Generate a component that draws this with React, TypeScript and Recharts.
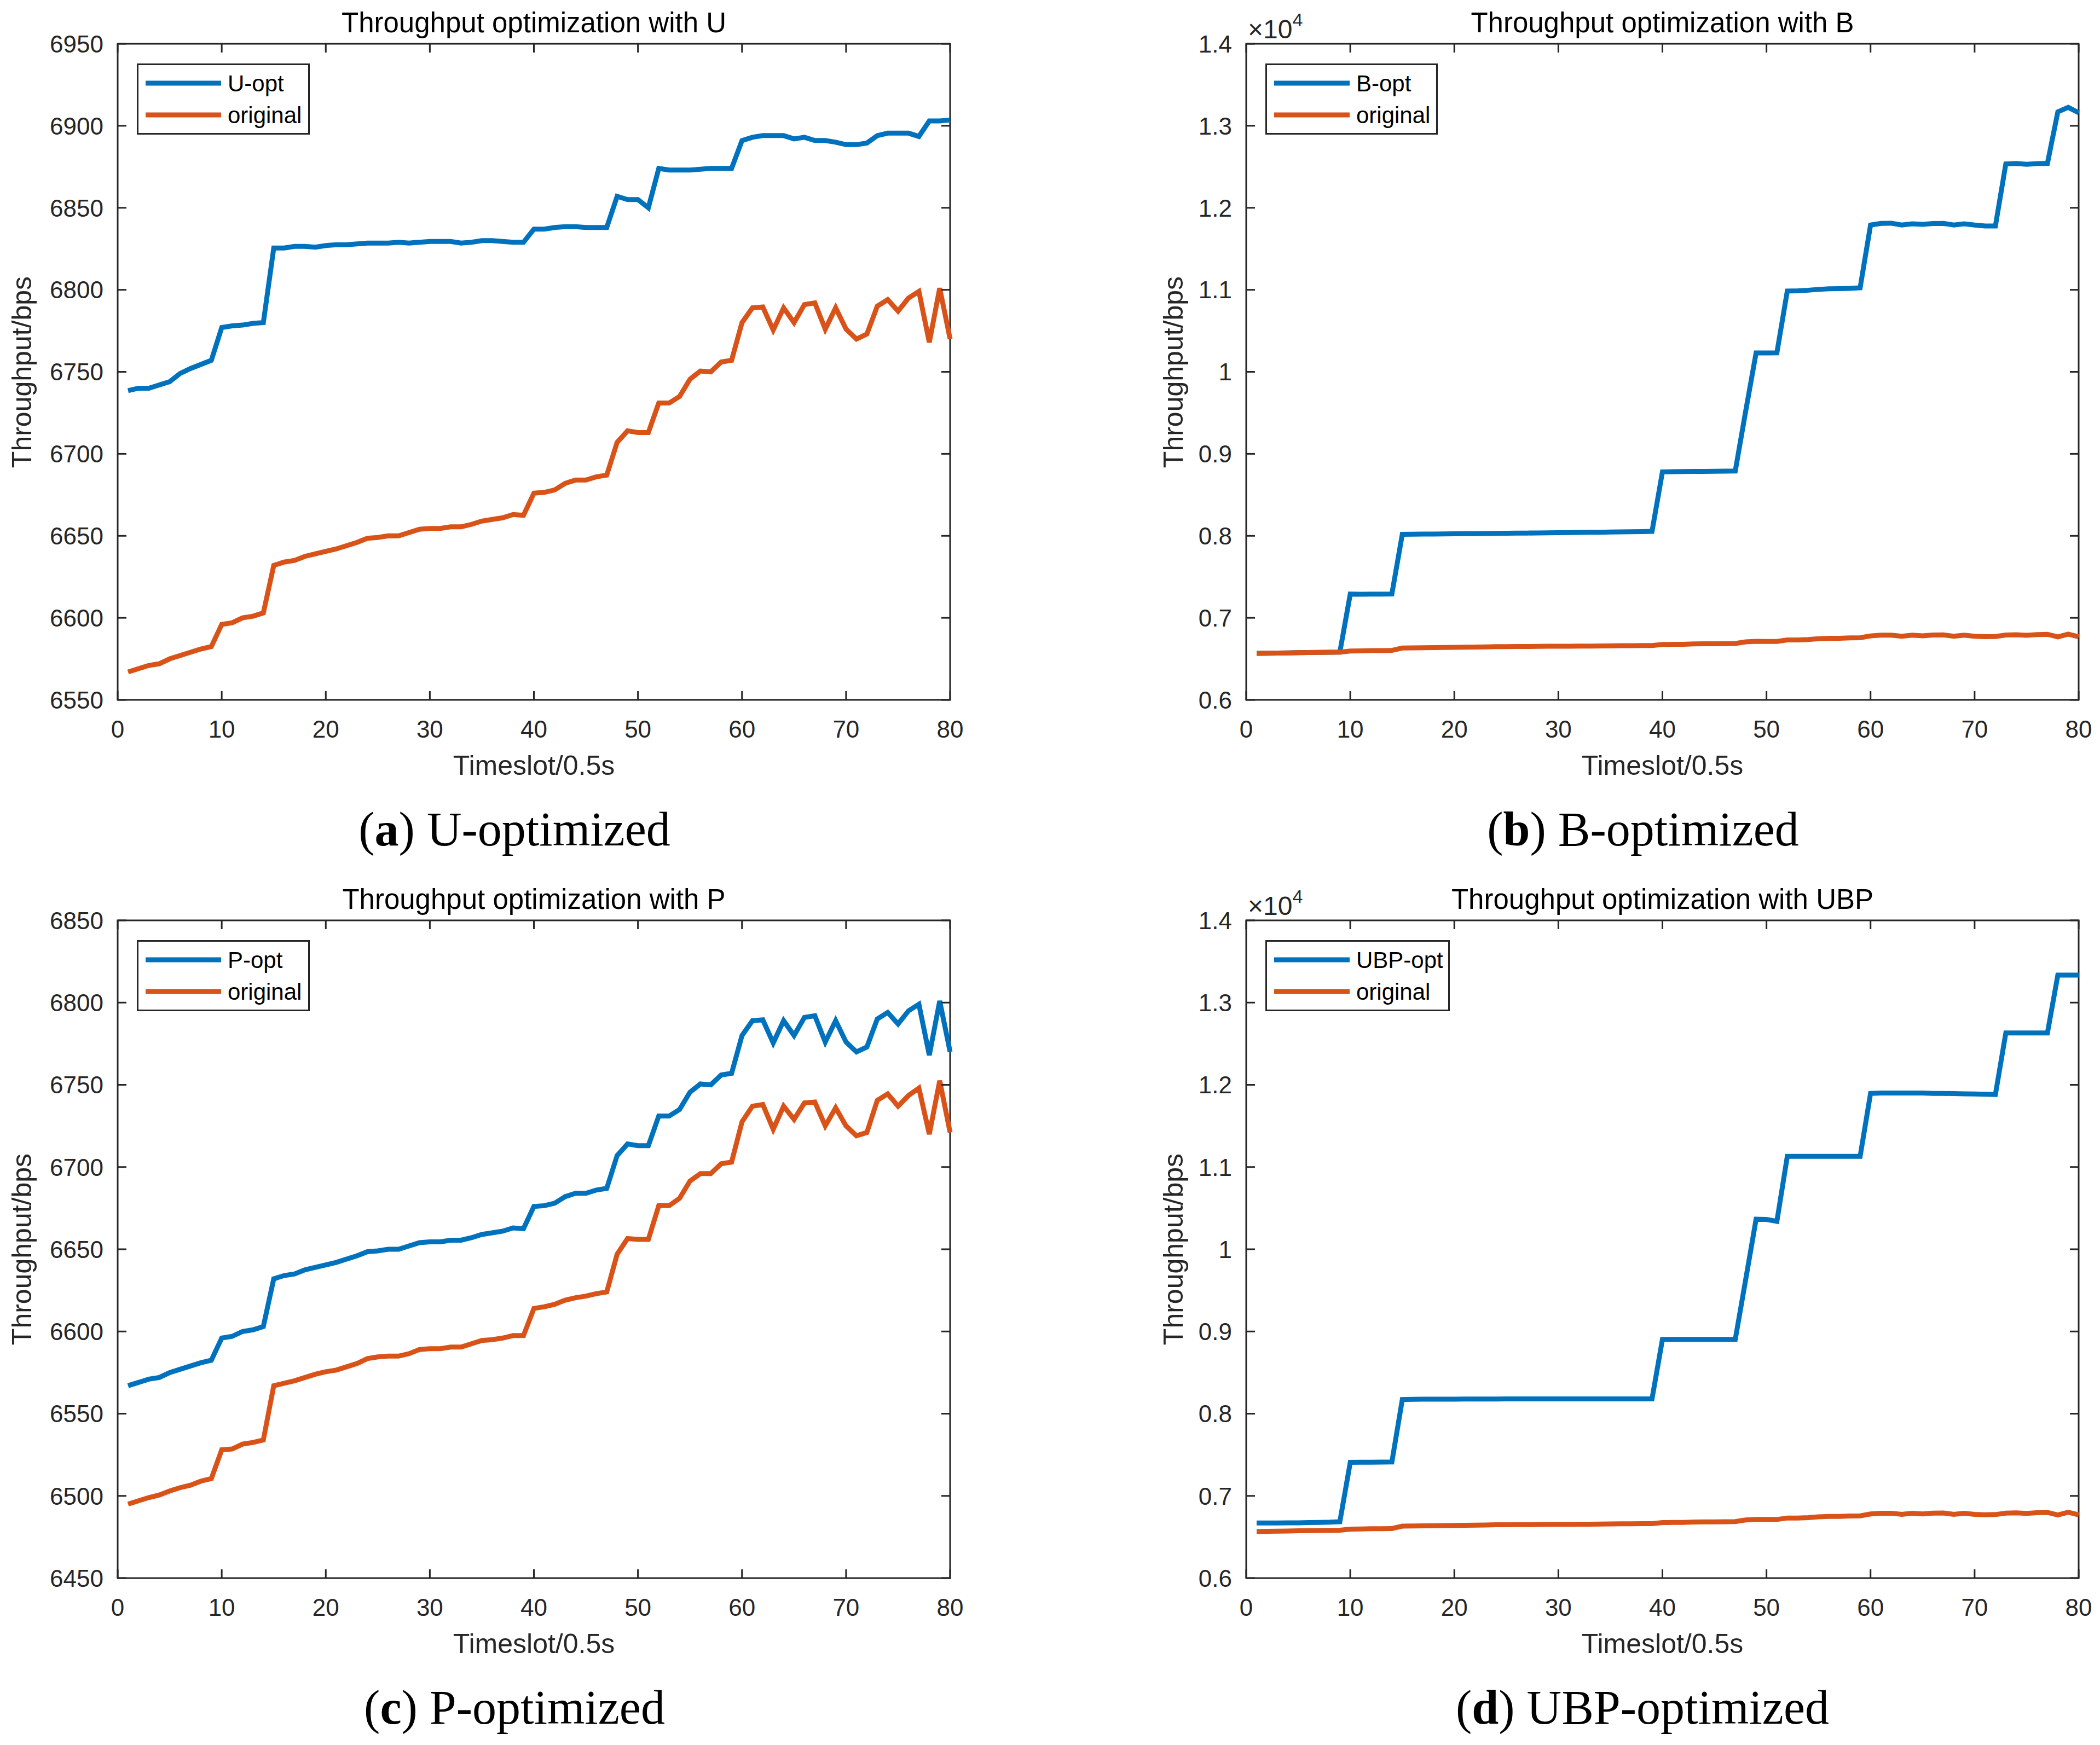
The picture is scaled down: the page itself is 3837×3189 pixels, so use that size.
import React from "react";
import { LineChart, Line, XAxis, YAxis, ReferenceArea, Legend } from "recharts";

const AXIS = "#262626";
const BLUE = "#0072BD";
const ORANGE = "#D95319";
const SANS = '"Liberation Sans", Arial, Helvetica, sans-serif';
const SERIF = '"Liberation Serif", "Times New Roman", serif';
const TICK_LEN = 16;
const LINE_W = 9;

// ---- data ----
const timeslots = [
    1, 2, 3, 4, 5, 6, 7, 8, 9, 10, 11, 12, 13, 14, 15, 16, 17, 18, 19, 20,
    21, 22, 23, 24, 25, 26, 27, 28, 29, 30, 31, 32, 33, 34, 35, 36, 37, 38, 39, 40,
    41, 42, 43, 44, 45, 46, 47, 48, 49, 50, 51, 52, 53, 54, 55, 56, 57, 58, 59, 60,
    61, 62, 63, 64, 65, 66, 67, 68, 69, 70, 71, 72, 73, 74, 75, 76, 77, 78, 79, 80,
];
const xTicks = [0, 10, 20, 30, 40, 50, 60, 70, 80];

const uOpt = [
    6738.5, 6740, 6740, 6742, 6744, 6749, 6752, 6754.5, 6757, 6777,
    6778, 6778.5, 6779.5, 6780, 6825.5, 6825.5, 6826.5, 6826.5, 6826, 6827,
    6827.5, 6827.5, 6828, 6828.5, 6828.5, 6828.5, 6829, 6828.5, 6829, 6829.5,
    6829.5, 6829.5, 6828.5, 6829, 6830, 6830, 6829.5, 6829, 6829, 6837,
    6837, 6838, 6838.5, 6838.5, 6838, 6838, 6838, 6857, 6855, 6855,
    6850, 6874, 6873, 6873, 6873, 6873.5, 6874, 6874, 6874, 6891,
    6893, 6894, 6894, 6894, 6892, 6893, 6891, 6891, 6890, 6888.5,
    6888.5, 6889.5, 6894, 6895.5, 6895.5, 6895.5, 6893.5, 6903, 6903, 6903.5,
];

// "original" in (a), (b), (d) and "P-opt" in (c)
const original = [
    6567, 6569, 6571, 6572, 6575, 6577, 6579, 6581, 6582.5, 6596,
    6597, 6600, 6601, 6603, 6632, 6634, 6635, 6637.5, 6639, 6640.5,
    6642, 6644, 6646, 6648.5, 6649, 6650, 6650, 6652, 6654, 6654.5,
    6654.5, 6655.5, 6655.5, 6657, 6659, 6660, 6661, 6663, 6662.5, 6676,
    6676.5, 6678, 6682, 6684, 6684, 6686, 6687, 6707, 6714, 6713,
    6713, 6731, 6731, 6735, 6745.5, 6750.5, 6750, 6756, 6757, 6780,
    6789, 6789.5, 6775.5, 6789, 6780, 6791, 6792, 6776, 6789, 6776,
    6770, 6773, 6790, 6794, 6787, 6795, 6799, 6768, 6801, 6770,
];

const pOriginal = [
    6495, 6497, 6499, 6500.5, 6503, 6505, 6506.5, 6509, 6510.5, 6528,
    6528.5, 6531.5, 6532.5, 6534, 6567, 6568.5, 6570, 6572, 6574, 6575.5,
    6576.5, 6578.5, 6580.5, 6583.5, 6584.5, 6585, 6585, 6586.5, 6589, 6589.5,
    6589.5, 6590.5, 6590.5, 6592.5, 6594.5, 6595, 6596, 6597.5, 6597.5, 6614,
    6615, 6616.5, 6619, 6620.5, 6621.5, 6623, 6624, 6647, 6656.5, 6656,
    6656, 6676.5, 6676.5, 6681, 6691.5, 6696, 6696, 6702, 6703, 6727.5,
    6737, 6738, 6723, 6737, 6729, 6739, 6739.5, 6725, 6736, 6725,
    6719, 6721, 6740.5, 6744.5, 6737, 6743.5, 6748, 6720, 6752.5, 6721,
];

const bOpt = [
    6567, 6569, 6571, 6572, 6575, 6577, 6579, 6581, 6582.5, 7290,
    7288, 7289, 7290, 7292, 8018, 8020, 8021, 8022, 8023, 8025,
    8026, 8027, 8029, 8030, 8031, 8033, 8034, 8035, 8037, 8038,
    8040, 8041, 8043, 8044, 8046, 8048, 8050, 8052, 8055, 8780,
    8782, 8784, 8785, 8786, 8787, 8789, 8790, 9520, 10230, 10230,
    10232, 10985, 10988, 10995, 11005, 11012, 11015, 11018, 11025, 11790,
    11810, 11812, 11790, 11805, 11798, 11808, 11810, 11790, 11805, 11790,
    11778, 11778, 12535, 12540, 12530, 12538, 12542, 13170, 13225, 13160,
];

const ubpOpt = [
    6670, 6670, 6671, 6672, 6673, 6675, 6677, 6680, 6686, 7408,
    7410, 7410, 7411, 7412, 8172, 8175, 8176, 8176, 8177, 8177,
    8178, 8178, 8178, 8178, 8179, 8179, 8179, 8179, 8179, 8180,
    8180, 8180, 8180, 8180, 8180, 8180, 8180, 8180, 8180, 8904,
    8904, 8904, 8904, 8904, 8904, 8904, 8904, 9630, 10365, 10362,
    10340, 11130, 11130, 11130, 11130, 11130, 11130, 11130, 11130, 11895,
    11900, 11900, 11900, 11900, 11900, 11895, 11895, 11893, 11890, 11888,
    11885, 11882, 12630, 12630, 12630, 12630, 12630, 13335, 13335, 13335,
];

const yTicksU = [6550, 6600, 6650, 6700, 6750, 6800, 6850, 6900, 6950];
const yTicksP = [6450, 6500, 6550, 6600, 6650, 6700, 6750, 6800, 6850];
const yTicksE4 = [6000, 7000, 8000, 9000, 10000, 11000, 12000, 13000, 14000];

const fmtPlain = (v: number) => String(v);
const fmtE4 = (v: number) => String(v / 10000);

// ---- pieces ----
interface Rect {
    left: number;
    top: number;
    right: number;
    bottom: number;
}

function xTickRenderer(plotTop: number) {
    return function XTick(props: any) {
        const { x, y, payload } = props;
        return (
            <g>
                <line x1={x} x2={x} y1={y} y2={y - TICK_LEN} stroke={AXIS} strokeWidth={3} />
                <line x1={x} x2={x} y1={plotTop} y2={plotTop + TICK_LEN} stroke={AXIS} strokeWidth={3} />
                <text x={x} y={y + 69} textAnchor="middle" fill={AXIS} fontSize={44} fontFamily={SANS}>
                    {payload.value}
                </text>
            </g>
        );
    };
}

function yTickRenderer(plotRight: number, fmt: (v: number) => string) {
    return function YTick(props: any) {
        const { x, y, payload } = props;
        return (
            <g>
                <line x1={x} x2={x + TICK_LEN} y1={y} y2={y} stroke={AXIS} strokeWidth={3} />
                <line x1={plotRight} x2={plotRight - TICK_LEN} y1={y} y2={y} stroke={AXIS} strokeWidth={3} />
                <text x={x - 26} y={y} dy="0.36em" textAnchor="end" fill={AXIS} fontSize={44} fontFamily={SANS}>
                    {fmt(payload.value)}
                </text>
            </g>
        );
    };
}

function legendRenderer(width: number) {
    return function LegendBox(props: any) {
        const items = props.payload || [];
        return (
            <svg width={width} height={130} style={{ display: "block" }}>
                <rect x={1.5} y={1.5} width={width - 3} height={127} fill="#fff" stroke={AXIS} strokeWidth={3} />
                {items.map((it: any, i: number) => (
                    <g key={i}>
                        <line x1={16} x2={154} y1={36 + i * 58} y2={36 + i * 58} stroke={it.color} strokeWidth={LINE_W} />
                        <text x={166} y={36 + i * 58} dy="0.36em" fontSize={42} fill="#000" fontFamily={SANS}>
                            {it.value}
                        </text>
                    </g>
                ))}
            </svg>
        );
    };
}

function CenterText({ cx, baseline, size, family, asc, children, color = AXIS }: any) {
    return (
        <div
            style={{
                position: "absolute",
                left: cx - 1000,
                width: 2000,
                top: baseline - asc * size,
                textAlign: "center",
                fontSize: size,
                lineHeight: `${size}px`,
                fontFamily: family,
                color,
                whiteSpace: "nowrap",
            }}
        >
            {children}
        </div>
    );
}

interface PanelProps {
    chartLeft: number;
    chartTop: number;
    chartWidth: number;
    chartHeight: number;
    plot: Rect;
    yDomain: [number, number];
    yTicks: number[];
    yFormat: (v: number) => string;
    yLabelX: number;
    optName: string;
    optValues: number[];
    origValues: number[];
    legendWidth: number;
    title: string;
    letter: string;
    caption: string;
    captionX: number;
    exponent?: boolean;
}

function Panel(p: PanelProps) {
    const data = timeslots.map((t, i) => ({ t, opt: p.optValues[i], orig: p.origValues[i] }));
    const plotCx = (p.plot.left + p.plot.right) / 2;
    const plotCy = (p.plot.top + p.plot.bottom) / 2;
    return (
        <>
            <div style={{ position: "absolute", left: p.chartLeft, top: p.chartTop }}>
                <LineChart
                    width={p.chartWidth}
                    height={p.chartHeight}
                    data={data}
                    margin={{
                        top: p.plot.top - p.chartTop,
                        right: p.chartLeft + p.chartWidth - p.plot.right,
                        left: 0,
                        bottom: 0,
                    }}
                >
                    <XAxis
                        dataKey="t"
                        type="number"
                        domain={[0, 80]}
                        ticks={xTicks}
                        interval={0}
                        height={p.chartTop + p.chartHeight - p.plot.bottom}
                        axisLine={false}
                        tickLine={false}
                        tickSize={0}
                        tickMargin={0}
                        tick={xTickRenderer(p.plot.top - p.chartTop)}
                    />
                    <YAxis
                        type="number"
                        domain={p.yDomain}
                        ticks={p.yTicks}
                        interval={0}
                        allowDataOverflow
                        width={p.plot.left - p.chartLeft}
                        axisLine={false}
                        tickLine={false}
                        tickSize={0}
                        tickMargin={0}
                        tick={yTickRenderer(p.plot.right - p.chartLeft, p.yFormat)}
                    />
                    <ReferenceArea
                        x1={0}
                        x2={80}
                        y1={p.yDomain[0]}
                        y2={p.yDomain[1]}
                        fill="none"
                        fillOpacity={0}
                        stroke={AXIS}
                        strokeWidth={3}
                    />
                    <Line
                        type="linear"
                        dataKey="opt"
                        name={p.optName}
                        stroke={BLUE}
                        strokeWidth={LINE_W}
                        dot={false}
                        activeDot={false}
                        isAnimationActive={false}
                    />
                    <Line
                        type="linear"
                        dataKey="orig"
                        name="original"
                        stroke={ORANGE}
                        strokeWidth={LINE_W}
                        dot={false}
                        activeDot={false}
                        isAnimationActive={false}
                    />
                    <Legend
                        layout="horizontal"
                        verticalAlign="middle"
                        align="center"
                        content={legendRenderer(p.legendWidth)}
                        wrapperStyle={{
                            left: p.plot.left - p.chartLeft + 35,
                            top: p.plot.top - p.chartTop + 36,
                            width: p.legendWidth,
                            height: 130,
                        }}
                    />
                </LineChart>
            </div>
            <CenterText cx={plotCx} baseline={p.plot.top - 21} size={51} family={SANS} asc={0.8465} color="#000">
                {p.title}
            </CenterText>
            <CenterText cx={plotCx} baseline={p.plot.bottom + 137} size={50} family={SANS} asc={0.8465}>
                Timeslot/0.5s
            </CenterText>
            <div
                style={{
                    position: "absolute",
                    left: p.yLabelX,
                    top: plotCy,
                    transform: "translate(-50%, -50%) rotate(-90deg)",
                    fontSize: 50,
                    lineHeight: "50px",
                    fontFamily: SANS,
                    color: AXIS,
                    whiteSpace: "nowrap",
                }}
            >
                Throughput/bps
            </div>
            {p.exponent && (
                <div
                    style={{
                        position: "absolute",
                        left: p.plot.left + 3,
                        top: p.plot.top - 9 - 0.8465 * 48,
                        fontSize: 48,
                        lineHeight: "48px",
                        fontFamily: SANS,
                        color: AXIS,
                        whiteSpace: "nowrap",
                    }}
                >
                    ×10
                    <span style={{ fontSize: 34, position: "relative", top: -22 }}>4</span>
                </div>
            )}
            <CenterText cx={p.captionX} baseline={p.plot.bottom + 267} size={88} family={SERIF} asc={0.8375} color="#000">
                (<b>{p.letter}</b>) {p.caption}
            </CenterText>
        </>
    );
}

export default function App() {
    return (
        <div
            style={{
                position: "absolute",
                left: 0,
                top: 0,
                width: 3837,
                height: 3189,
                background: "#fff",
                overflow: "hidden",
            }}
        >
            <Panel
                chartLeft={0}
                chartTop={0}
                chartWidth={1800}
                chartHeight={1400}
                plot={{ left: 215, top: 80, right: 1736, bottom: 1279 }}
                yDomain={[6550, 6950]}
                yTicks={yTicksU}
                yFormat={fmtPlain}
                yLabelX={40}
                optName="U-opt"
                optValues={uOpt}
                origValues={original}
                legendWidth={316}
                title="Throughput optimization with U"
                letter="a"
                caption="U-optimized"
                captionX={940}
            />
            <Panel
                chartLeft={1900}
                chartTop={0}
                chartWidth={1937}
                chartHeight={1400}
                plot={{ left: 2277, top: 80, right: 3798, bottom: 1279 }}
                yDomain={[6000, 14000]}
                yTicks={yTicksE4}
                yFormat={fmtE4}
                yLabelX={2144}
                optName="B-opt"
                optValues={bOpt}
                origValues={original}
                legendWidth={315}
                title="Throughput optimization with B"
                letter="b"
                caption="B-optimized"
                captionX={3002}
                exponent
            />
            <Panel
                chartLeft={0}
                chartTop={1600}
                chartWidth={1800}
                chartHeight={1400}
                plot={{ left: 215, top: 1682, right: 1736, bottom: 2884 }}
                yDomain={[6450, 6850]}
                yTicks={yTicksP}
                yFormat={fmtPlain}
                yLabelX={40}
                optName="P-opt"
                optValues={original}
                origValues={pOriginal}
                legendWidth={316}
                title="Throughput optimization with P"
                letter="c"
                caption="P-optimized"
                captionX={940}
            />
            <Panel
                chartLeft={1900}
                chartTop={1600}
                chartWidth={1937}
                chartHeight={1400}
                plot={{ left: 2277, top: 1682, right: 3798, bottom: 2884 }}
                yDomain={[6000, 14000]}
                yTicks={yTicksE4}
                yFormat={fmtE4}
                yLabelX={2144}
                optName="UBP-opt"
                optValues={ubpOpt}
                origValues={original}
                legendWidth={337}
                title="Throughput optimization with UBP"
                letter="d"
                caption="UBP-optimized"
                captionX={3001}
                exponent
            />
        </div>
    );
}
